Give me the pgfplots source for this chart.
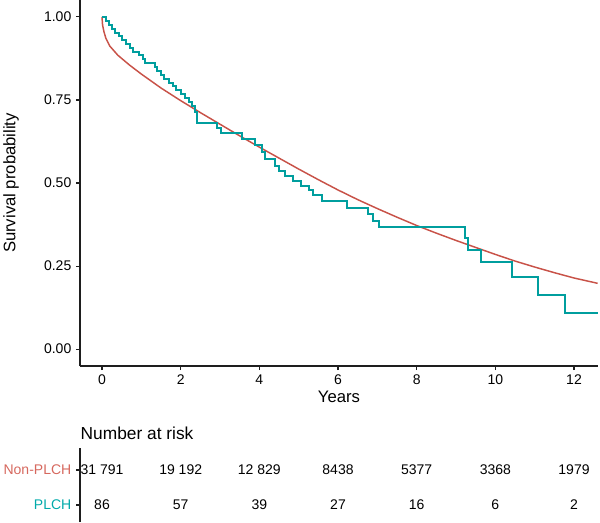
\documentclass[border=0pt]{standalone}
\usepackage{fontspec}
\setmainfont{Liberation Sans}
\usepackage{pgfplots}
\usepackage{pgfplotstable}
\pgfplotsset{compat=1.18}
\definecolor{nonplch}{RGB}{200,82,72}
\definecolor{nonplchtxt}{RGB}{214,104,94}
\definecolor{plch}{RGB}{0,158,158}
\definecolor{plchtxt}{RGB}{0,170,170}
\definecolor{axgray}{RGB}{30,30,30}

% Kaplan-Meier estimates
\pgfplotstableread{
t s
0.00 1.000
0.10 0.988
0.18 0.977
0.25 0.965
0.33 0.953
0.42 0.942
0.50 0.930
0.60 0.919
0.70 0.907
0.80 0.895
0.95 0.884
1.05 0.872
1.10 0.860
1.35 0.849
1.40 0.837
1.50 0.826
1.58 0.814
1.70 0.802
1.80 0.791
1.88 0.779
2.00 0.767
2.12 0.756
2.20 0.744
2.30 0.733
2.36 0.715
2.42 0.680
2.92 0.665
3.02 0.650
3.55 0.634
3.89 0.614
4.06 0.594
4.14 0.573
4.40 0.552
4.50 0.536
4.65 0.521
4.86 0.507
5.06 0.492
5.26 0.478
5.37 0.463
5.60 0.445
6.22 0.426
6.77 0.407
6.90 0.387
7.03 0.367
9.23 0.333
9.31 0.298
9.64 0.262
10.43 0.216
11.09 0.163
11.77 0.108
12.60 0.108
}\plchdata

\pgfplotstableread{
t s
0.00 1.000
0.01 0.980
0.02 0.972
0.05 0.955
0.10 0.935
0.20 0.912
0.40 0.885
0.70 0.855
1.00 0.828
1.50 0.786
2.00 0.748
2.50 0.712
3.00 0.677
3.50 0.642
4.00 0.608
4.50 0.575
5.00 0.542
5.50 0.510
6.00 0.479
6.50 0.450
7.00 0.423
7.50 0.397
8.00 0.372
8.50 0.349
9.00 0.327
9.50 0.306
10.00 0.285
10.50 0.265
11.00 0.247
11.50 0.230
12.00 0.214
12.60 0.198
}\nonplchdata

\pgfplotsset{
  kmaxis/.style={
    scale only axis,
    xmin=-0.56, xmax=12.61,
    axis line style={axgray, line width=0.8pt},
    tick style={axgray, line width=0.8pt},
    tick align=outside,
    major tick length=3pt,
    tick label style={font=\fontsize{10.5}{12}\selectfont, text=black},
    label style={font=\fontsize{12.5}{14}\selectfont},
  }
}

\begin{document}
\begin{tikzpicture}
\begin{axis}[
  kmaxis,
  at={(60pt,-274.5pt)}, anchor=south west,
  width=388.5pt, height=274.5pt,
  ymin=-0.051, ymax=1.051,
  axis x line*=bottom, axis y line*=left,
  xtick={0,2,4,6,8,10,12},
  ytick={0,0.25,0.5,0.75,1},
  yticklabels={0.00,0.25,0.50,0.75,1.00},
  xticklabels={0,2,4,6,8,10,12},
  xlabel={Years},
  ylabel={Survival probability},
  xlabel style={yshift=2pt},
  ylabel style={yshift=12pt},
  clip=false,
]
\addplot[nonplch, line width=1.1pt] table[x=t, y=s] {\nonplchdata};
\addplot[plch, line width=1.5pt, const plot] table[x=t, y=s] {\plchdata};
\end{axis}

\node[anchor=west, font=\fontsize{13}{15}\selectfont] at (57pt,-325pt) {Number at risk};

\begin{axis}[
  kmaxis,
  at={(60pt,-391.5pt)}, anchor=south west,
  width=388.5pt, height=55.5pt,
  ymin=0, ymax=74,
  axis y line*=left,
  axis x line=none,
  ytick={17,52},
  yticklabels={\textcolor{plchtxt}{PLCH},\textcolor{nonplchtxt}{Non-PLCH}},
  clip=false,
]
\foreach \xx/\lab in {0/31 791, 2/19 192, 4/12 829, 6/8438, 8/5377, 10/3368, 12/1979}{
  \edef\temp{\noexpand\node[font=\noexpand\fontsize{10.5}{12}\noexpand\selectfont] at (axis cs:\xx,52) {\lab};}
  \temp
}
\foreach \xx/\lab in {0/86, 2/57, 4/39, 6/27, 8/16, 10/6, 12/2}{
  \edef\temp{\noexpand\node[font=\noexpand\fontsize{10.5}{12}\noexpand\selectfont] at (axis cs:\xx,17) {\lab};}
  \temp
}
\end{axis}

\pgfresetboundingbox
\useasboundingbox (0pt,0pt) rectangle (450pt,-391.5pt);
\end{tikzpicture}
\end{document}
